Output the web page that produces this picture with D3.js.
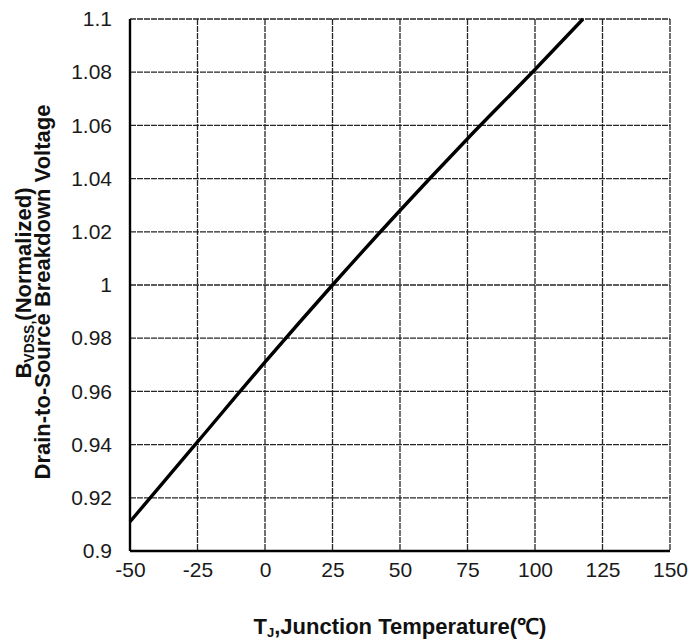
<!DOCTYPE html>
<meta charset="utf-8">
<script src="https://cdnjs.cloudflare.com/ajax/libs/d3/7.8.5/d3.min.js"></script>
<style>
  body { margin: 0; background: #fff; }
  text { font-family: "Liberation Sans", Arial, sans-serif; }
</style>
<div id="chart"></div>
<script>

// curve: temperature (C) vs normalized BVDSS
var temps = [-50, -25, 0, 25, 50, 75, 100, 117.8];
var bvdss = [0.911, 0.941, 0.971, 1.0, 1.028, 1.055, 1.081, 1.1];

var xTicks = [-50, -25, 0, 25, 50, 75, 100, 125, 150];
var yTicks = [0.9, 0.92, 0.94, 0.96, 0.98, 1, 1.02, 1.04, 1.06, 1.08, 1.1];

var margin = {top: 19, right: 21, bottom: 90, left: 130},
    width = 691 - margin.left - margin.right,
    height = 641 - margin.top - margin.bottom;

var svg = d3.select("#chart").append("svg")
    .attr("width", 691)
    .attr("height", 641)
  .append("g")
    .attr("transform", "translate(" + margin.left + "," + margin.top + ")");

var x = d3.scaleLinear().domain([-50, 150]).range([0, width]);
var y = d3.scaleLinear().domain([0.9, 1.1]).range([height, 0]);

// grid lines
svg.append("g").selectAll("line")
  .data(xTicks)
  .enter().append("line")
    .attr("x1", function(d) { return x(d); })
    .attr("x2", function(d) { return x(d); })
    .attr("y1", 0).attr("y2", height)
    .attr("stroke", "#262626")
    .attr("stroke-width", 1.3)
    .attr("stroke-dasharray", "6,1");

svg.append("g").selectAll("line")
  .data(yTicks)
  .enter().append("line")
    .attr("y1", function(d) { return y(d); })
    .attr("y2", function(d) { return y(d); })
    .attr("x1", 0).attr("x2", width)
    .attr("stroke", "#262626")
    .attr("stroke-width", 1.3)
    .attr("stroke-dasharray", "6,1");

// frame: left and bottom darker
svg.append("line").attr("x1", 0).attr("x2", 0).attr("y1", 0).attr("y2", height)
  .attr("stroke", "#000").attr("stroke-width", 2.4);
svg.append("line").attr("x1", 0).attr("x2", width).attr("y1", height).attr("y2", height)
  .attr("stroke", "#000").attr("stroke-width", 2.4);

// axes (labels only)
var xAxis = d3.axisBottom(x).tickValues(xTicks).tickSize(0).tickPadding(20)
  .tickFormat(function(d) { return d; });
var yAxis = d3.axisLeft(y).tickValues(yTicks).tickSize(0).tickPadding(18)
  .tickFormat(function(d) { return d3.format("")(+d.toFixed(2)); });

var gx = svg.append("g").attr("transform", "translate(0," + height + ")").call(xAxis);
var gy = svg.append("g").call(yAxis);
[gx, gy].forEach(function(g) {
  g.select(".domain").remove();
  g.selectAll("text")
    .attr("fill", "#1a1a1a")
    .style("font-size", "21px")
    .style("font-family", "'Liberation Sans', Arial, sans-serif");
});
gx.selectAll("text").attr("dy", "0.3em");

// the curve
var pts = temps.map(function(t, i) { return [t, bvdss[i]]; });
var line = d3.line()
  .x(function(d) { return x(d[0]); })
  .y(function(d) { return y(d[1]); })
  .curve(d3.curveMonotoneX);

svg.append("path")
  .datum(pts)
  .attr("d", line)
  .attr("fill", "none")
  .attr("stroke", "#000")
  .attr("stroke-width", 3.4);

// x title
var xt = svg.append("text")
  .attr("x", x(50))
  .attr("y", height + 83)
  .attr("text-anchor", "middle")
  .style("font-size", "22px")
  .style("font-weight", "bold")
  .attr("fill", "#111");
xt.append("tspan").text("T");
xt.append("tspan").attr("dy", 3).style("font-size", "13px").text("J");
xt.append("tspan").attr("dy", -3).text(",Junction Temperature(\u2103)");

// y title, two lines rotated
var yt = svg.append("g")
  .attr("transform", "translate(" + (-margin.left) + "," + (-margin.top) + ") rotate(-90)");

var l1 = yt.append("text")
  .attr("x", -283).attr("y", 31)
  .attr("text-anchor", "middle")
  .style("font-size", "22px")
  .style("font-weight", "bold")
  .attr("fill", "#111");
l1.append("tspan").text("B");
l1.append("tspan").attr("dy", 3).style("font-size", "14px").text("VDSS,");
l1.append("tspan").attr("dy", -3).text("(Normalized)");

yt.append("text")
  .attr("x", -292).attr("y", 50)
  .attr("text-anchor", "middle")
  .style("font-size", "22px")
  .style("font-weight", "bold")
  .attr("fill", "#111")
  .text("Drain-to-Source Breakdown Voltage");

</script>
